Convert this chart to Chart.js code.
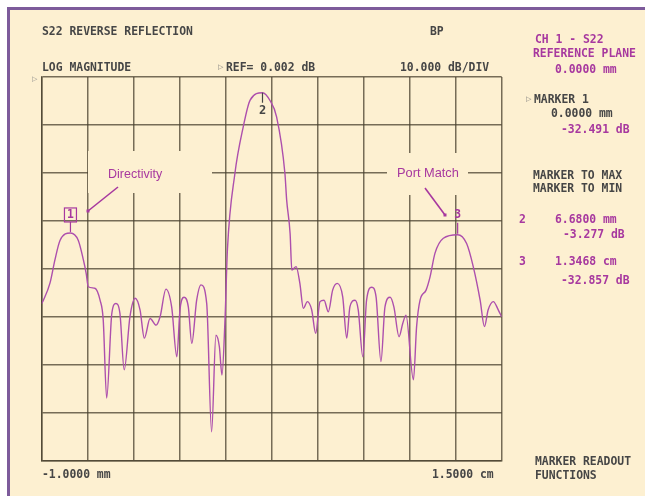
<!DOCTYPE html>
<html>
<head>
<meta charset="utf-8">
<script src="https://cdn.jsdelivr.net/npm/chart.js@4.4.1/dist/chart.umd.min.js"></script>
<style>
  html, body { margin: 0; padding: 0; background: #fff; }
  canvas { display: block; }
</style>
</head>
<body>
<canvas id="s22Chart" width="645" height="496"></canvas>
<script>
"use strict";

// trace: distance (mm) vs return loss (dB)
const distMm = [
  -1.00, -0.94, -0.71, -0.54, -0.36, 0.00, 0.27, 0.45, 0.55, 0.62,
  0.85, 1.03, 1.14, 1.26, 1.44, 1.58, 1.72, 1.87, 2.07, 2.25,
  2.42, 2.57, 2.77, 2.98, 3.12, 3.32, 3.52, 3.70, 3.81, 3.95,
  4.10, 4.22, 4.39, 4.54, 4.74, 4.91, 5.06, 5.18, 5.27, 5.38,
  5.46, 5.72, 6.01, 6.25, 6.68, 6.94, 7.17, 7.46, 7.52, 7.64,
  7.70, 7.85, 7.98, 8.10, 8.24, 8.39, 8.53, 8.68, 8.82, 8.97,
  9.12, 9.28, 9.47, 9.61, 9.72, 9.90, 10.01, 10.17, 10.30, 10.48,
  10.63, 10.80, 10.94, 11.12, 11.25, 11.43, 11.56, 11.67, 11.93, 12.04,
  12.16, 12.37, 12.51, 12.68, 12.97, 13.468, 13.78, 14.01, 14.25, 14.40,
  14.53, 14.71, 14.88, 15.00
];
const lossDb = [
  -47.2, -46.5, -42.9, -38.1, -34.0, -32.491, -34.0, -38.1, -41.0, -43.7,
  -44.0, -46.5, -50.6, -66.9, -49.2, -47.2, -49.2, -61.0, -49.9, -46.1,
  -48.5, -54.4, -50.3, -51.7, -49.9, -44.2, -47.9, -58.3, -48.5, -45.9,
  -47.9, -55.5, -46.5, -43.3, -47.2, -73.9, -53.8, -56.2, -62.1, -49.9,
  -36.0, -20.1, -10.4, -4.8, -3.277, -4.9, -8.3, -20.1, -25.6, -32.6,
  -40.2, -39.5, -43.0, -48.2, -46.8, -48.5, -53.4, -46.8, -46.5, -48.9,
  -44.4, -43.0, -45.8, -54.4, -47.9, -46.5, -48.5, -58.3, -46.5, -43.8,
  -45.8, -59.3, -47.9, -45.9, -47.9, -54.1, -51.3, -49.6, -63.1, -52.0,
  -46.5, -44.4, -41.6, -36.7, -33.6, -32.857, -34.7, -39.5, -46.5, -52.0,
  -48.5, -46.8, -48.5, -50.0
];

const markerNames = ["1", "2", "3"];
const markerMm = [0, 6.68, 13.468];
const markerDb = [-32.491, -3.277, -32.857];

const xStart = -1;   // mm
const xStop = 15;    // mm (1.5000 cm)
const xDivs = 10;
const refDb = 0;
const dbPerDiv = 10;
const yDivs = 8;

const darkText = "#464646";
const magenta = "#a7389f";
const cream = "#fdf0d1";
const frame = "#7d5b9b";
const gridColor = "rgba(72, 64, 46, 0.75)";
const monoFont = "bold 11.4px 'DejaVu Sans Mono'";

const points = [];
for (let i = 0; i < distMm.length; i++) {
  points.push({ x: distMm[i], y: lossDb[i] });
}

function text(ctx, str, x, y, color, font) {
  ctx.font = font || monoFont;
  ctx.fillStyle = color;
  ctx.textAlign = "left";
  ctx.textBaseline = "middle";
  ctx.fillText(str, x, y);
}

function arrow(ctx, x1, y1, x2, y2) {
  ctx.strokeStyle = magenta;
  ctx.lineWidth = 1.6;
  ctx.beginPath();
  ctx.moveTo(x1, y1);
  ctx.lineTo(x2, y2);
  ctx.stroke();
  ctx.fillStyle = magenta;
  ctx.fillRect(x2 - 1.5, y2 - 1.5, 3, 3);
}

const screenPlugin = {
  id: "screen",
  beforeDraw(chart) {
    const ctx = chart.ctx;
    ctx.save();
    ctx.fillStyle = "#ffffff";
    ctx.fillRect(0, 0, chart.width, chart.height);
    ctx.fillStyle = cream;
    ctx.fillRect(9, 9, chart.width - 9, chart.height - 9);
    ctx.fillStyle = frame;
    ctx.fillRect(7, 7, chart.width - 7, 3);
    ctx.fillRect(7, 7, 3, chart.height - 7);
    ctx.restore();
  },
  beforeDatasetsDraw(chart) {
    // blank patches behind the two callouts
    const ctx = chart.ctx;
    ctx.save();
    ctx.fillStyle = cream;
    ctx.fillRect(88, 151, 124, 42);
    ctx.fillRect(387, 153, 81, 42);
    ctx.restore();
  },
  afterDatasetsDraw(chart) {
    const ctx = chart.ctx;
    const xs = chart.scales.x;
    const ys = chart.scales.y;
    ctx.save();

    // header
    text(ctx, "S22 REVERSE REFLECTION", 42, 32, darkText);
    text(ctx, "BP", 430, 32, darkText);
    text(ctx, "LOG MAGNITUDE", 42, 68, darkText);
    text(ctx, "\u25B7", 218, 67, "#777", "7px 'DejaVu Sans'");
    text(ctx, "REF= 0.002 dB", 226, 68, darkText);
    text(ctx, "10.000 dB/DIV", 400, 68, darkText);
    text(ctx, "\u25B7", 32, 79, "#888", "7px 'DejaVu Sans'");

    // right readout panel
    text(ctx, "CH 1 - S22", 535, 40, magenta);
    text(ctx, "REFERENCE PLANE", 533, 54, magenta);
    text(ctx, "0.0000 mm", 555, 70, magenta);
    text(ctx, "\u25B7", 526, 99, "#777", "7px 'DejaVu Sans'");
    text(ctx, "MARKER 1", 534, 100, darkText);
    text(ctx, "0.0000 mm", 551, 114, darkText);
    text(ctx, "-32.491 dB", 561, 130, magenta);
    text(ctx, "MARKER TO MAX", 533, 176, darkText);
    text(ctx, "MARKER TO MIN", 533, 189, darkText);
    text(ctx, "2", 519, 220, magenta);
    text(ctx, "6.6800 mm", 555, 220, magenta);
    text(ctx, "-3.277 dB", 563, 235, magenta);
    text(ctx, "3", 519, 262, magenta);
    text(ctx, "1.3468 cm", 555, 262, magenta);
    text(ctx, "-32.857 dB", 561, 281, magenta);
    text(ctx, "MARKER READOUT", 535, 462, darkText);
    text(ctx, "FUNCTIONS", 535, 476, darkText);

    // start / stop
    text(ctx, "-1.0000 mm", 42, 475, darkText);
    text(ctx, "1.5000 cm", 432, 475, darkText);

    // callouts
    text(ctx, "Directivity", 108, 175, magenta, "12.5px 'Liberation Sans'");
    arrow(ctx, 118, 187, 88, 211);
    text(ctx, "Port Match", 397, 173, magenta, "12.8px 'Liberation Sans'");
    arrow(ctx, 425, 188, 445, 215);

    // markers
    for (let i = 0; i < markerNames.length; i++) {
      const px = xs.getPixelForValue(markerMm[i]);
      const py = ys.getPixelForValue(markerDb[i]);
      ctx.lineWidth = 1.2;
      ctx.beginPath();
      if (i === 0) {
        ctx.strokeStyle = magenta;
        ctx.moveTo(px, py - 1);
        ctx.lineTo(px, py - 11);
        ctx.stroke();
        ctx.strokeRect(px - 6, py - 25, 12, 14);
        text(ctx, markerNames[i], px - 3.5, py - 18, magenta);
      } else if (i === 1) {
        ctx.strokeStyle = darkText;
        ctx.moveTo(px, py);
        ctx.lineTo(px, py + 10);
        ctx.stroke();
        text(ctx, markerNames[i], px - 3.5, py + 18, darkText, "bold 12px 'DejaVu Sans Mono'");
      } else {
        ctx.strokeStyle = magenta;
        ctx.moveTo(px, py - 1);
        ctx.lineTo(px, py - 12);
        ctx.stroke();
        text(ctx, markerNames[i], px - 3.5, py - 20, magenta);
      }
    }
    ctx.restore();
  }
};

const s22Chart = new Chart(document.getElementById("s22Chart"), {
  type: "line",
  data: {
    datasets: [
      {
        data: points,
        borderColor: "#ad4fad",
        borderWidth: 1.4,
        pointRadius: 0,
        cubicInterpolationMode: "monotone",
        fill: false,
      },
    ],
  },
  options: {
    responsive: false,
    animation: false,
    layout: {
      padding: { left: 41.7, top: 77, right: 143.3, bottom: 35 },
    },
    plugins: {
      legend: { display: false },
      tooltip: { enabled: false },
    },
    scales: {
      x: {
        type: "linear",
        min: xStart,
        max: xStop,
        afterBuildTicks(axis) {
          axis.ticks = [];
          for (let i = 0; i <= xDivs; i++) {
            axis.ticks.push({ value: xStart + (i * (xStop - xStart)) / xDivs });
          }
        },
        ticks: { display: false },
        grid: { color: gridColor, lineWidth: 1.5, drawTicks: false },
        border: { color: gridColor, width: 1.5 },
      },
      y: {
        type: "linear",
        min: refDb - yDivs * dbPerDiv,
        max: refDb,
        ticks: { display: false, stepSize: dbPerDiv },
        grid: { color: gridColor, lineWidth: 1.5, drawTicks: false },
        border: { color: gridColor, width: 1.5 },
      },
    },
  },
  plugins: [screenPlugin],
});
</script>
</body>
</html>
